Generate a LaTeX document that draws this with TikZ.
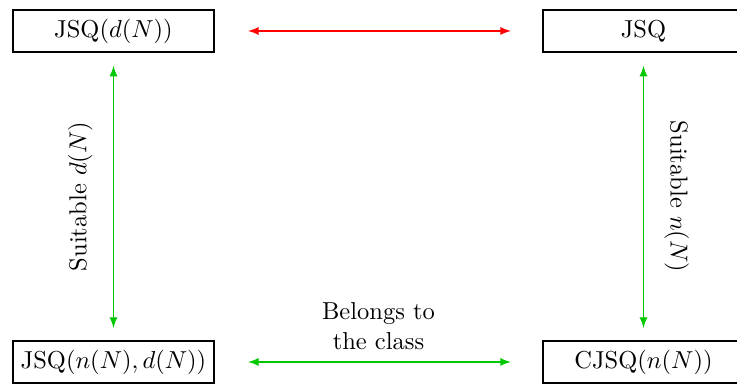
\documentclass[tikz,border=0pt]{standalone}
\usetikzlibrary{arrows}
\definecolor{arrgreen}{RGB}{0,200,0}
\begin{document}
\begin{tikzpicture}[x=0.408pt,y=-0.408pt,>=latex,
  box/.style={draw,thick,minimum width=82.4pt,minimum height=16.8pt,inner sep=0pt},
  redarr/.style={<->,red,line width=0.5pt},
  grnarr/.style={<->,arrgreen,line width=0.5pt}]
\useasboundingbox (0,0) rectangle (737,385);
\node[box] (tl) at (113.5,31) {JSQ$(d(N))$};
\node[box] (tr) at (643.5,31) {JSQ};
\node[box] (bl) at (113.5,362) {JSQ$(n(N),d(N))$};
\node[box] (br) at (643.5,362) {CJSQ$(n(N))$};
\draw[redarr,shorten <=13.3pt,shorten >=12.5pt] (tl.east) -- (tr.west);
\draw[grnarr,shorten <=13.3pt,shorten >=12.5pt] (bl.east) -- (br.west)
  node[midway,above=1.5pt,black,align=center] {Belongs to\\the class};
\draw[grnarr,shorten <=5.4pt,shorten >=5.1pt] (tl.south) -- (bl.north)
  node[midway,rotate=90,anchor=south,black,yshift=5pt] {Suitable $d(N)$};
\draw[grnarr,shorten <=5.4pt,shorten >=5.1pt] (tr.south) -- (br.north)
  node[midway,rotate=-90,anchor=south,black,yshift=5pt] {Suitable $n(N)$};
\end{tikzpicture}
\end{document}
